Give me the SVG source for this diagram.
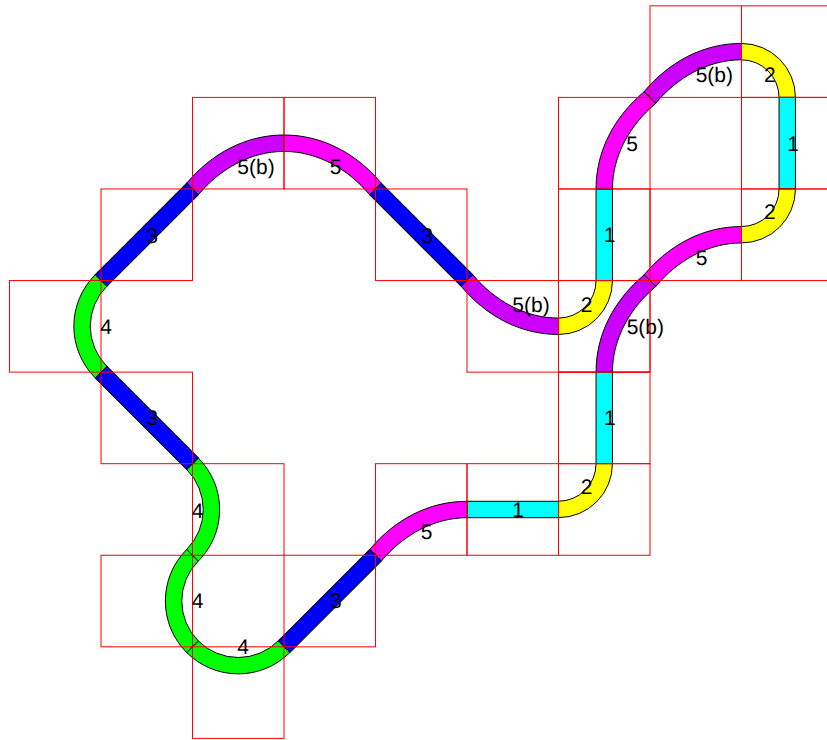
<svg xmlns="http://www.w3.org/2000/svg" xmlns:xlink="http://www.w3.org/1999/xlink" width="827" height="740" viewBox="0 0 827 740">
<style>
.c1{fill:#00ffff}.c2{fill:#ffff00}.c3{fill:#0000ff}.c4{fill:#00ff00}.c5{fill:#ff00ff}.c5b{fill:#cc00ff}
.rib{stroke:#000;stroke-width:1}
.cell{fill:none;stroke:#ff0000;stroke-width:1}
text{font-family:"Liberation Sans",Arial,sans-serif;font-size:21px;fill:#000;text-rendering:geometricPrecision}
</style>
<defs>
<path id="t1" d="M-8.2,0V91.55H8.2V0Z"/>
<path id="t2" d="M0,-53.95A53.95,53.95 0 0 1 53.95,0L37.55,0A37.55,37.55 0 0 0 0,-37.55Z"/>
<path id="t3" d="M0,-8.2H129.45V8.2H0Z"/>
<path id="t4" d="M-51.55,-51.55A72.9,72.9 0 0 0 -51.55,51.55L-39.95,39.95A56.5,56.5 0 0 1 -39.95,-39.95Z"/>
<path id="t5" d="M0,-8.2C38.5,-8.2 72.6,10.45 97.3,39.98L85.7,51.58C64.2,25.85 33.5,8.2 0,8.2Z"/>
</defs>
<g id="tile-5b-a"><use href="#t5" class="rib c5b" transform="translate(284,143.2) scale(-1,1)"/><rect class="cell" x="192.5" y="97.4" width="91.5" height="91.57"/></g>
<g id="tile-5-a"><use href="#t5" class="rib c5" transform="translate(284,143.2)"/><rect class="cell" x="284" y="97.4" width="91.5" height="91.57"/></g>
<g id="tile-3-a"><use href="#t3" class="rib c3" transform="translate(101,280.54) rotate(-45)"/><rect class="cell" x="101" y="188.97" width="91.5" height="91.57"/></g>
<g id="tile-3-b"><use href="#t3" class="rib c3" transform="translate(375.5,188.97) rotate(45)"/><rect class="cell" x="375.5" y="188.97" width="91.5" height="91.57"/></g>
<g id="tile-5b-b"><use href="#t5" class="rib c5b" transform="translate(558.5,326.3) scale(-1,-1)"/><rect class="cell" x="467" y="280.54" width="91.5" height="91.57"/></g>
<g id="tile-2-a"><use href="#t2" class="rib c2" transform="translate(558.5,280.54) scale(1,-1)"/><rect class="cell" x="558.5" y="280.54" width="91.5" height="91.57"/></g>
<g id="tile-1-a"><use href="#t1" class="rib c1" transform="translate(604.25,188.97)"/><rect class="cell" x="558.5" y="188.97" width="91.5" height="91.57"/></g>
<g id="tile-5-b"><use href="#t5" class="rib c5" transform="matrix(0,-1,1,0,604.25,188.97)"/><rect class="cell" x="558.5" y="97.4" width="91.5" height="91.57"/></g>
<g id="tile-5b-c"><use href="#t5" class="rib c5b" transform="translate(741.5,51.6) scale(-1,1)"/><rect class="cell" x="650" y="5.83" width="91.5" height="91.57"/></g>
<g id="tile-2-b"><use href="#t2" class="rib c2" transform="translate(741.5,97.4)"/><rect class="cell" x="741.5" y="5.83" width="91.5" height="91.57"/></g>
<g id="tile-1-b"><use href="#t1" class="rib c1" transform="translate(787.25,97.4)"/><rect class="cell" x="741.5" y="97.4" width="91.5" height="91.57"/></g>
<g id="tile-2-c"><use href="#t2" class="rib c2" transform="translate(741.5,188.97) scale(1,-1)"/><rect class="cell" x="741.5" y="188.97" width="91.5" height="91.57"/></g>
<g id="tile-5-c"><use href="#t5" class="rib c5" transform="translate(741.5,234.75) scale(-1,1)"/><rect class="cell" x="650" y="188.97" width="91.5" height="91.57"/></g>
<g id="tile-5b-d"><use href="#t5" class="rib c5b" transform="matrix(0,-1,1,0,604.25,372.11)"/><rect class="cell" x="558.5" y="280.54" width="91.5" height="91.57"/></g>
<g id="tile-1-c"><use href="#t1" class="rib c1" transform="translate(604.25,372.11)"/><rect class="cell" x="558.5" y="372.11" width="91.5" height="91.57"/></g>
<g id="tile-2-d"><use href="#t2" class="rib c2" transform="translate(558.5,463.68) scale(1,-1)"/><rect class="cell" x="558.5" y="463.68" width="91.5" height="91.57"/></g>
<g id="tile-1-d"><use href="#t1" class="rib c1" transform="translate(467,509.5) rotate(-90)"/><rect class="cell" x="467" y="463.68" width="91.5" height="91.57"/></g>
<g id="tile-5-d"><use href="#t5" class="rib c5" transform="translate(467,509.5) scale(-1,1)"/><rect class="cell" x="375.5" y="463.68" width="91.5" height="91.57"/></g>
<g id="tile-3-c"><use href="#t3" class="rib c3" transform="translate(284,646.82) rotate(-45)"/><rect class="cell" x="284" y="555.25" width="91.5" height="91.57"/></g>
<g id="tile-4-a"><use href="#t4" class="rib c4" transform="translate(238.25,601) rotate(-90)"/><rect class="cell" x="192.5" y="646.82" width="91.5" height="91.57"/></g>
<g id="tile-4-b"><use href="#t4" class="rib c4" transform="translate(238.25,601)"/><rect class="cell" x="101" y="555.25" width="91.5" height="91.57"/></g>
<g id="tile-4-c"><use href="#t4" class="rib c4" transform="translate(146.75,509.5) rotate(180)"/><rect class="cell" x="192.5" y="463.68" width="91.5" height="91.57"/></g>
<g id="tile-3-d"><use href="#t3" class="rib c3" transform="translate(101,372.11) rotate(45)"/><rect class="cell" x="101" y="372.11" width="91.5" height="91.57"/></g>
<g id="tile-4-d"><use href="#t4" class="rib c4" transform="translate(146.75,326.3)"/><rect class="cell" x="9.5" y="280.54" width="91.5" height="91.57"/></g>
<g id="labels">
<text x="237.3" y="174">5(b)</text>
<text x="329.7" y="174">5</text>
<text x="146.2" y="242.7">3</text>
<text x="421.2" y="242.7">3</text>
<text x="512.3" y="311.7">5(b)</text>
<text x="580.7" y="311.7">2</text>
<text x="603.7" y="242.3">1</text>
<text x="626.3" y="151">5</text>
<text x="695.7" y="82.3">5(b)</text>
<text x="764" y="82.3">2</text>
<text x="787.3" y="151">1</text>
<text x="764" y="219">2</text>
<text x="695.7" y="265">5</text>
<text x="626.7" y="334">5(b)</text>
<text x="604" y="425">1</text>
<text x="580.7" y="494.3">2</text>
<text x="512.3" y="516.7">1</text>
<text x="420.7" y="539.3">5</text>
<text x="329.9" y="608">3</text>
<text x="237.3" y="654">4</text>
<text x="191.7" y="608.3">4</text>
<text x="191.7" y="517.7">4</text>
<text x="146.2" y="425">3</text>
<text x="100.2" y="334.3">4</text>
</g>
</svg>
